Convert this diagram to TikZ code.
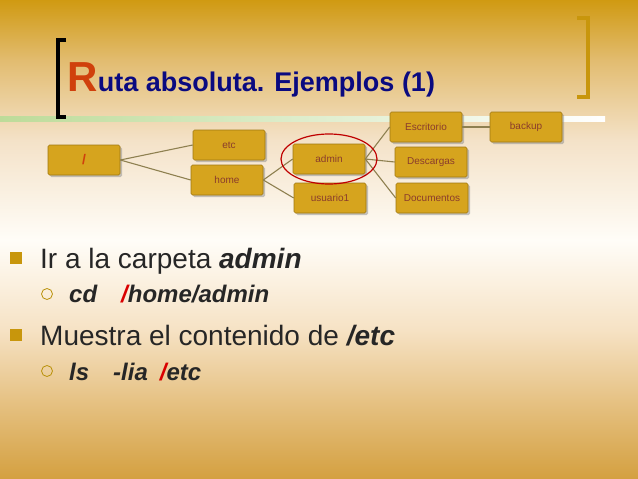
\documentclass[tikz,border=0pt]{standalone}
\usepackage{fontspec}
\setmainfont{Liberation Sans}
\usetikzlibrary{shadows}
\definecolor{boxc}{HTML}{D6A41E}
\definecolor{boxd}{HTML}{A07810}
\definecolor{txtc}{HTML}{8A3C2C}
\definecolor{titleblue}{HTML}{0A0A80}
\definecolor{titler}{HTML}{D0400C}
\definecolor{gold}{HTML}{C8960C}
\definecolor{edgec}{HTML}{8E8050}
\definecolor{bgA}{HTML}{D09A12}
\definecolor{bgB}{HTML}{E2BC70}
\definecolor{bgC}{HTML}{F4E2C8}
\definecolor{bgD}{HTML}{FFFDF8}
\definecolor{bgE}{HTML}{F6E2C4}
\definecolor{bgF}{HTML}{E6C284}
\definecolor{bgG}{HTML}{D4A040}
\tikzset{
 fbox/.style={fill=boxc, draw=boxd, line width=0.6pt, rounded corners=1.5pt, minimum width=72pt, minimum height=30pt, inner sep=0pt,
   font=\fontsize{10}{11}\selectfont, text=txtc, drop shadow={shadow xshift=2pt, shadow yshift=-2pt, fill=black!45, opacity=0.5}},
 link/.style={draw=edgec, line width=1.1pt},
 sq/.style={fill=gold, minimum size=12pt, inner sep=0pt},
 circ/.style={circle, draw=gold!80!olive, line width=0.8pt, minimum size=11pt, inner sep=0pt},
}
\begin{document}
\begin{tikzpicture}[x=1pt,y=-1pt]
\useasboundingbox (0,0) rectangle (638,479);
\shade[top color=bgA, bottom color=bgB] (0,0) rectangle (638,60.5);
\shade[top color=bgB, bottom color=bgC] (0,60) rectangle (638,140.5);
\shade[top color=bgC, bottom color=bgD] (0,140) rectangle (638,240.5);
\shade[top color=bgD, bottom color=bgE] (0,240) rectangle (638,330.5);
\shade[top color=bgE, bottom color=bgF] (0,330) rectangle (638,400.5);
\shade[top color=bgF, bottom color=bgG] (0,400) rectangle (638,479);
\shade[left color=green!30!olive!40!white, right color=white] (0,116) rectangle (605,121);
\draw[line width=4pt] (66,40) -- (58,40) -- (58,117) -- (66,117);
\draw[gold, line width=3.5pt] (577,18) -- (588,18) -- (588,97) -- (577,97);
\node[anchor=base west, inner sep=0pt, text=titler, font=\bfseries\fontsize{42}{42}\selectfont] (R) at (67,91) {R};
\node[anchor=base west, inner sep=0pt, text=titleblue, font=\bfseries\fontsize{27}{27}\selectfont] (title) at (R.base east) {uta absoluta. Ejemplos (1)};
\node[fbox] (root) at (84,160) {\textcolor{titler}{\bfseries\fontsize{14}{14}\selectfont /}};
\node[fbox] (etc) at (229,145) {etc};
\node[fbox] (home) at (227,180) {home};
\node[fbox] (admin) at (329,159) {admin};
\node[fbox] (usu) at (330,198) {usuario1};
\node[fbox] (esc) at (426,127) {Escritorio};
\node[fbox] (bak) at (526,127) {backup};
\node[fbox] (des) at (431,162) {Descargas};
\node[fbox] (doc) at (432,198) {Documentos};
\draw[link] (root.east) -- (etc.west);
\draw[link] (root.east) -- (home.west);
\draw[link] (home.east) -- (admin.west);
\draw[link] (home.east) -- (usu.west);
\draw[link] (admin.east) -- (esc.west);
\draw[link] (admin.east) -- (des.west);
\draw[link] (admin.east) -- (doc.west);
\draw[link] (esc.east) -- (bak.west);
\draw[red!75!black, line width=1.2pt] (admin) ellipse [x radius=48, y radius=25];
\node[sq] (b1) at (16,258) {};
\node[anchor=base west, inner sep=0pt, text=black!85, font=\fontsize{28}{28}\selectfont] (t1) at (40,268) {Ir a la carpeta \textbf{\itshape admin}};
\node[circ] (c1) at (47,294) {};
\node[anchor=base west, inner sep=0pt, text=black!85, font=\bfseries\itshape\fontsize{24}{24}\selectfont] (t2) at (69,302) {cd\quad\textcolor{red!85!black}{/}home/admin};
\node[sq] (b2) at (16,335) {};
\node[anchor=base west, inner sep=0pt, text=black!85, font=\fontsize{28}{28}\selectfont] (t3) at (40,345) {Muestra el contenido de \textbf{\itshape /etc}};
\node[circ] (c2) at (47,371) {};
\node[anchor=base west, inner sep=0pt, text=black!85, font=\bfseries\itshape\fontsize{24}{24}\selectfont] (t4) at (69,380) {ls\quad -lia\enspace\textcolor{red!85!black}{/}etc};
\end{tikzpicture}
\end{document}
